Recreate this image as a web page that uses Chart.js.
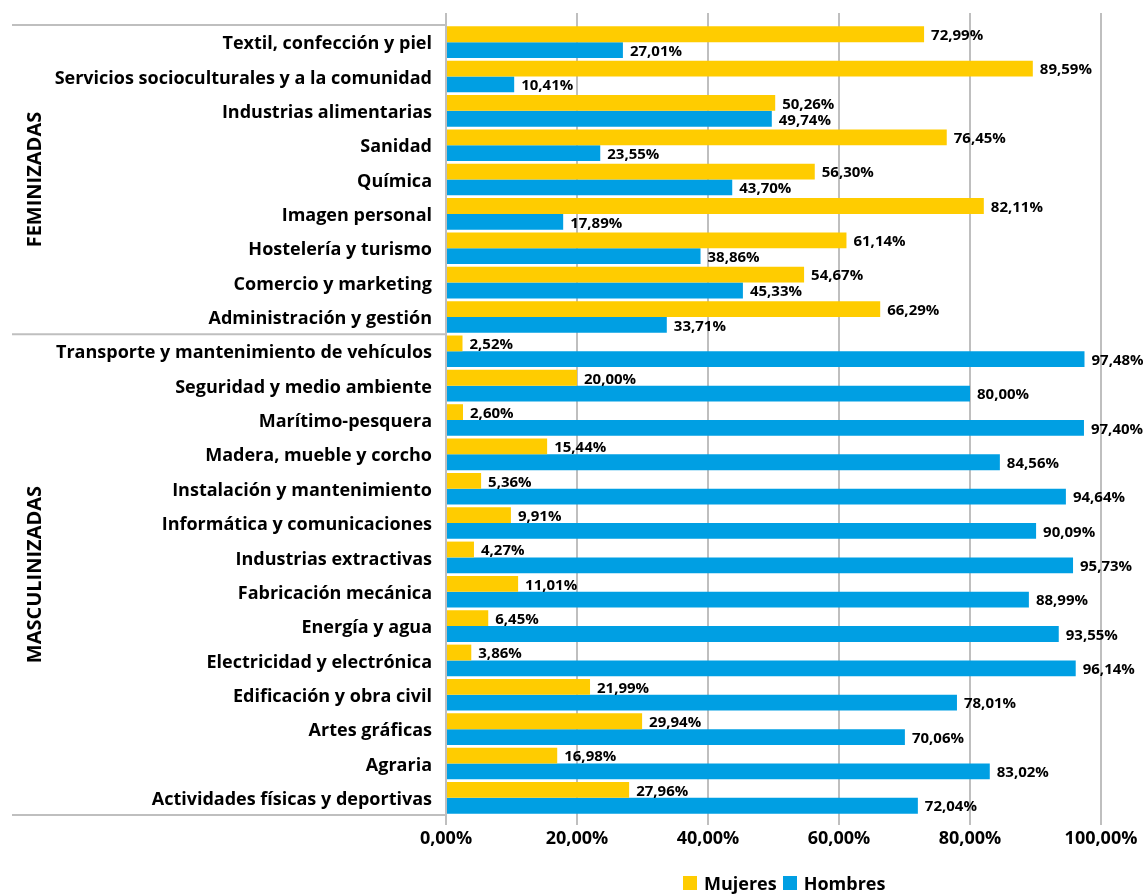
<!DOCTYPE html>
<html>
<head>
<meta charset="utf-8">
<script src="https://cdn.jsdelivr.net/npm/chart.js@4.4.1/dist/chart.umd.min.js"></script>
<style>
    body { margin: 0; background: #fff; }
    #wrap { position: relative; width: 1143px; height: 894px; }
    #legend {
        position: absolute; left: 683px; top: 871px;
        display: flex; align-items: center;
        font: bold 18px 'Open Sans', sans-serif; color: #000;
    }
    #legend span.box { display: inline-block; width: 14px; height: 14px; margin-right: 7px; }
    #legend span.item { display: flex; align-items: center; margin-right: 6px; }
</style>
</head>
<body>
<div id="wrap">
    <canvas id="myChart"></canvas>
    <div id="legend"></div>
</div>
<script>
const categories = [
    'Textil, confección y piel',
    'Servicios socioculturales y a la comunidad',
    'Industrias alimentarias',
    'Sanidad',
    'Química',
    'Imagen personal',
    'Hostelería y turismo',
    'Comercio y marketing',
    'Administración y gestión',
    'Transporte y mantenimiento de vehículos',
    'Seguridad y medio ambiente',
    'Marítimo-pesquera',
    'Madera, mueble y corcho',
    'Instalación y mantenimiento',
    'Informática y comunicaciones',
    'Industrias extractivas',
    'Fabricación mecánica',
    'Energía y agua',
    'Electricidad y electrónica',
    'Edificación y obra civil',
    'Artes gráficas',
    'Agraria',
    'Actividades físicas y deportivas'
];
const mujeres = [72.99, 89.59, 50.26, 76.45, 56.30, 82.11, 61.14, 54.67, 66.29,
    2.52, 20.00, 2.60, 15.44, 5.36, 9.91, 4.27, 11.01, 6.45, 3.86, 21.99, 29.94, 16.98, 27.96];
const hombres = [27.01, 10.41, 49.74, 23.55, 43.70, 17.89, 38.86, 45.33, 33.71,
    97.48, 80.00, 97.40, 84.56, 94.64, 90.09, 95.73, 88.99, 93.55, 96.14, 78.01, 70.06, 83.02, 72.04];
const groupNames = ['FEMINIZADAS', 'MASCULINIZADAS'];
const groupSizes = [9, 14];
const xTicks = [0, 20, 40, 60, 80, 100];

const gridColor = '#BFBFBF';
const fontFamily = "'Open Sans', sans-serif";

function pct(v) {
    return v.toFixed(2).replace('.', ',') + '%';
}

// value labels to the right of each bar
const valueLabels = {
    id: 'valueLabels',
    afterDatasetsDraw(chart) {
        const ctx = chart.ctx;
        ctx.save();
        ctx.font = 'bold 15px ' + fontFamily;
        ctx.fillStyle = '#000';
        ctx.textAlign = 'left';
        ctx.textBaseline = 'middle';
        chart.data.datasets.forEach((ds, i) => {
            chart.getDatasetMeta(i).data.forEach((bar, j) => {
                ctx.fillText(pct(ds.data[j]), bar.x + 7, bar.y + 1.5);
            });
        });
        ctx.restore();
    }
};

// group separators and rotated group names on the left
const groupLabels = {
    id: 'groupLabels',
    afterDraw(chart) {
        const ctx = chart.ctx;
        const y = chart.scales.y;
        const left = chart.chartArea.left;
        ctx.save();
        ctx.strokeStyle = gridColor;
        ctx.lineWidth = 2;
        let start = 0;
        const edges = [y.getPixelForValue(-0.5)];
        groupSizes.forEach(n => {
            start += n;
            edges.push(y.getPixelForValue(start - 0.5));
        });
        edges.forEach(py => {
            ctx.beginPath();
            ctx.moveTo(12, py);
            ctx.lineTo(left, py);
            ctx.stroke();
        });
        ctx.font = 'bold 20px ' + fontFamily;
        ctx.fillStyle = '#000';
        ctx.textAlign = 'center';
        ctx.textBaseline = 'middle';
        groupNames.forEach((name, i) => {
            const cy = (edges[i] + edges[i + 1]) / 2;
            ctx.save();
            ctx.translate(35, cy);
            ctx.rotate(-Math.PI / 2);
            ctx.fillText(name, 0, 0);
            ctx.restore();
        });
        ctx.restore();
    }
};

const ctx = document.getElementById('myChart');

const chart = new Chart(ctx, {
    type: 'bar',
    data: {
        labels: categories,
        datasets: [{
            label: 'Mujeres',
            data: mujeres,
            backgroundColor: '#FFCC00',
            categoryPercentage: 0.92,
            barPercentage: 1.0
        }, {
            label: 'Hombres',
            data: hombres,
            backgroundColor: '#009FE3',
            categoryPercentage: 0.92,
            barPercentage: 1.0
        }]
    },
    options: {
        responsive: true,
        maintainAspectRatio: false,
        animation: false,
        indexAxis: 'y',
        layout: {
            padding: { top: 13, right: 42, bottom: 29, left: 0 }
        },
        plugins: {
            legend: { display: false },
            tooltip: { enabled: false }
        },
        scales: {
            y: {
                grid: { display: false },
                border: { display: false },
                ticks: {
                    color: '#000',
                    padding: 6,
                    labelOffset: 2,
                    font: { family: fontFamily, size: 18, weight: 'bold' }
                },
                afterFit(scale) { scale.width = 446; }
            },
            x: {
                min: 0,
                max: 100,
                afterBuildTicks(scale) { scale.ticks = xTicks.map(v => ({ value: v })); },
                grid: { color: gridColor, lineWidth: 2, tickLength: 10 },
                border: { display: false },
                ticks: {
                    color: '#000',
                    padding: 3,
                    font: { family: fontFamily, size: 18, weight: 'bold' },
                    callback: v => pct(v)
                },
                afterFit(scale) { scale.height = 50; }
            },
            x2: {
                position: 'top',
                axis: 'x',
                min: 0,
                max: 100,
                afterBuildTicks(scale) { scale.ticks = xTicks.map(v => ({ value: v })); },
                grid: { color: gridColor, lineWidth: 2, tickLength: 12, drawOnChartArea: false },
                border: { display: false },
                ticks: { display: false }
            }
        }
    },
    plugins: [valueLabels, groupLabels]
});

// legend
const legend = document.getElementById('legend');
chart.data.datasets.forEach(ds => {
    const item = document.createElement('span');
    item.className = 'item';
    const box = document.createElement('span');
    box.className = 'box';
    box.style.background = ds.backgroundColor;
    item.appendChild(box);
    item.appendChild(document.createTextNode(ds.label));
    legend.appendChild(item);
});
</script>
</body>
</html>
